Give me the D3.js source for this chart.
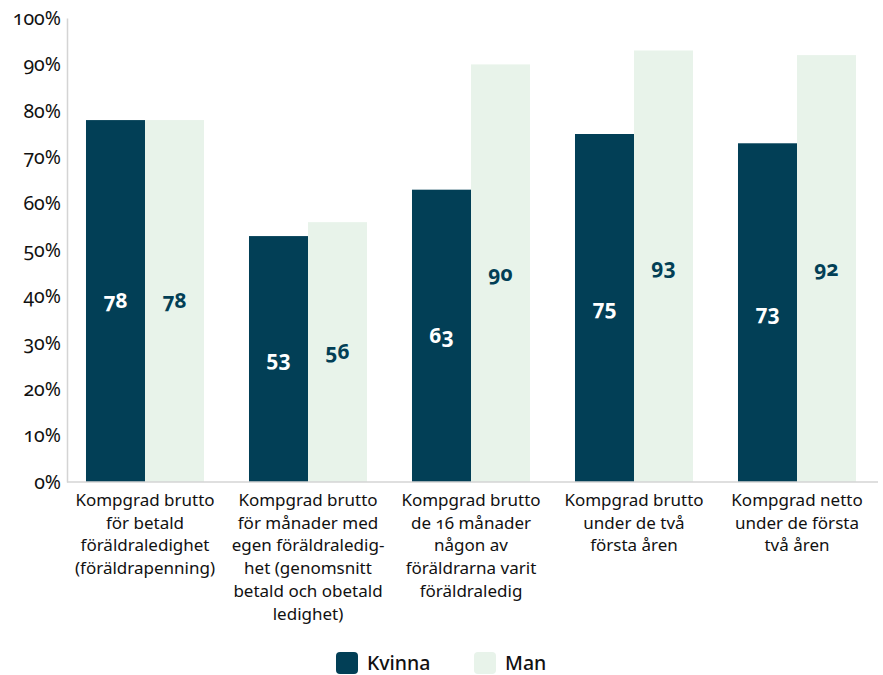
<!DOCTYPE html>
<html><head><meta charset="utf-8">
<script src="https://cdn.jsdelivr.net/npm/d3@7"></script>
<style>
body{margin:0;background:#fff;}
svg text{font-family:"Noto Sans",sans-serif;font-variant-numeric:oldstyle-nums;}
</style></head>
<body><svg id="c" width="883" height="675"></svg>
<script>
const categories = [
  ["Kompgrad brutto","för betald","föräldraledighet","(föräldrapenning)"],
  ["Kompgrad brutto","för månader med","egen föräldraledig-","het (genomsnitt","betald och obetald","ledighet)"],
  ["Kompgrad brutto","de 16 månader","någon av","föräldrarna varit","föräldraledig"],
  ["Kompgrad brutto","under de två","första åren"],
  ["Kompgrad netto","under de första","två åren"]
];
const seriesNames = ["Kvinna","Man"];
const kvinna = [78,53,63,75,73];
const man = [78,56,90,93,92];
const yTicks = [0,10,20,30,40,50,60,70,80,90,100];
const colors = ["#023F56","#E8F3EA"];
const labelColors = ["#ffffff","#023F56"];

const svg = d3.select("#c");
const x0 = d3.scaleBand().domain(d3.range(categories.length)).range([63.5,878.5]).paddingInner(0.276).paddingOuter(0.138);
const x1 = d3.scaleBand().domain([0,1]).range([0,x0.bandwidth()]);
const y = d3.scaleLinear().domain([0,100]).range([482,18]);
const vals = [kvinna, man];

// y axis
const yAxis = svg.append("g").attr("transform","translate(67,0)")
  .call(d3.axisLeft(y).tickValues(yTicks).tickSize(0).tickPadding(6).tickFormat(d=>d+"%"));
yAxis.select(".domain").attr("stroke","#d4d4d4").attr("stroke-width",1.5);
yAxis.selectAll("text").attr("font-size",19.5).attr("fill","#111");

// bars
const groups = svg.append("g").selectAll("g").data(categories).join("g")
  .attr("transform",(d,i)=>`translate(${x0(i)},0)`);
groups.each(function(c,i){
  const g = d3.select(this);
  [0,1].forEach(s=>{
    g.append("rect").attr("x",x1(s)).attr("y",y(vals[s][i])).attr("width",x1.bandwidth())
      .attr("height",y(0)-y(vals[s][i])).attr("fill",colors[s]);
    g.append("text").attr("x",x1(s)+x1.bandwidth()/2).attr("y",y(vals[s][i]/2))
      .attr("dy","0.35em").attr("text-anchor","middle").attr("font-size",21).attr("font-weight",700)
      .attr("fill",labelColors[s]).text(vals[s][i]);
  });
});

// x axis
const xAxis = svg.append("g").attr("transform","translate(0,482)")
  .call(d3.axisBottom(x0).tickSize(0).tickFormat(""));
xAxis.select(".domain").attr("d","M67,0H878").attr("stroke","#d4d4d4").attr("stroke-width",1.5);
xAxis.selectAll(".tick").each(function(d){
  const t = d3.select(this).append("text").attr("text-anchor","middle").attr("fill","#111")
    .attr("font-size",17);
  categories[d].forEach((line,j)=>{
    t.append("tspan").attr("x",0).attr("y",24+j*22.7).text(line);
  });
});

// legend
const legend = svg.append("g");
const lx = [336,474];
seriesNames.forEach((n,i)=>{
  legend.append("rect").attr("x",lx[i]).attr("y",652).attr("width",22).attr("height",22).attr("rx",4).attr("fill",colors[i]);
  legend.append("text").attr("x",lx[i]+31).attr("y",663).attr("dy","0.35em").attr("font-size",19.5)
    .attr("font-weight",500).attr("fill","#111").text(n);
});
</script></body></html>
